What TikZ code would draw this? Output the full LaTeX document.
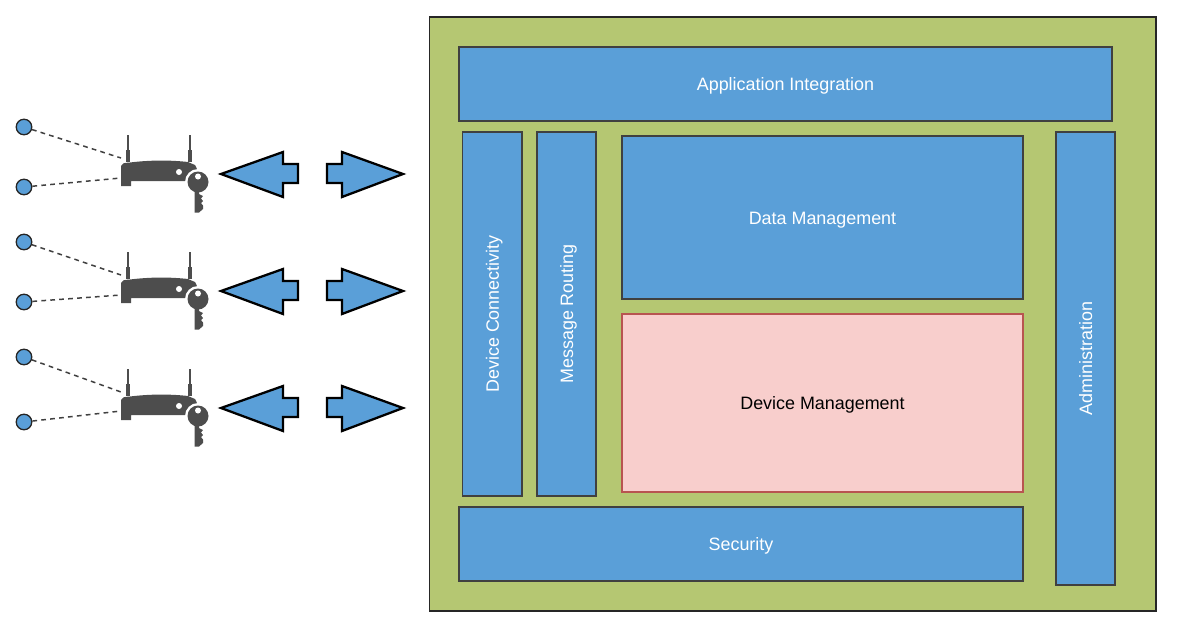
\documentclass[tikz,border=0pt]{standalone}
\usepackage{fontspec}
\setmainfont{Liberation Sans}
\definecolor{platgreen}{HTML}{B5C772}
\definecolor{blockblue}{HTML}{5A9FD8}
\definecolor{mgmtpink}{HTML}{F8CECC}
\definecolor{mgmtred}{HTML}{B85450}
\definecolor{icongray}{HTML}{4D4D4D}
\tikzset{
  platbox/.style={draw=black!85,fill=platgreen,line width=0.7pt},
  blockbox/.style={draw=black!75,fill=blockblue,line width=0.7pt},
  mgmtbox/.style={draw=mgmtred,fill=mgmtpink,line width=0.7pt},
  labeltext/.style={font=\fontsize{10.2}{12}\selectfont,text height=9.6pt,text depth=2pt},
  blocktext/.style={labeltext,text=white},
  blockarrow/.style={draw=black,fill=blockblue,line width=1.3pt,miter limit=10},
  devdot/.style={circle,draw=black!85,fill=blockblue,line width=0.75pt,minimum size=0.31cm,inner sep=0pt},
  devlink/.style={dash pattern=on 2.7pt off 2.4pt,line width=0.85pt,black!75}
}
\begin{document}
\begin{tikzpicture}[x=0.02cm,y=-0.02cm]
\useasboundingbox (0,0) rectangle (1179,629);
% platform
\draw[platbox] (429.5,17) rectangle (1156,611);
\draw[blockbox] (459,47) rectangle (1112,121) node[pos=0.5,blocktext] (appint) {Application Integration};
\draw[blockbox] (462.5,132) rectangle (522,496) node[pos=0.5,blocktext,rotate=90] (devconn) {Device Connectivity};
\draw[blockbox] (537,132) rectangle (596,496) node[pos=0.5,blocktext,rotate=90] (msgrout) {Message Routing};
\draw[blockbox] (622,136) rectangle (1023,299) node[pos=0.5,blocktext] (datamgmt) {Data Management};
\draw[mgmtbox] (622,314) rectangle (1023,492) node[pos=0.5,labeltext] (devmgmt) {Device Management};
\draw[blockbox] (459,507) rectangle (1023,581) node[pos=0.5,blocktext] (security) {Security};
\draw[blockbox] (1056,132) rectangle (1115,585) node[pos=0.5,blocktext,rotate=90] (admin) {Administration};
% gateways with their devices
\foreach \i/\dy/\ya/\yb/\ea/\eb in {1/0/127/187/158/178,2/117/242/302/275/295,3/234/357/422/392/411} {
  \node[devdot] (dota\i) at (24,\ya) {};
  \node[devdot] (dotb\i) at (24,\yb) {};
  \coordinate (gwa\i) at (121,\ea);
  \coordinate (gwb\i) at (121,\eb);
  \draw[devlink] (dota\i) -- (gwa\i);
  \draw[devlink] (dotb\i) -- (gwb\i);
  \begin{scope}[shift={(0,\dy)}]
  % antennas
  \fill[icongray] (127.3,135) rectangle (128.9,150);
  \fill[icongray] (189.3,135) rectangle (190.9,150);
  \fill[icongray] (126,150) rectangle (130.2,162);
  \fill[icongray] (188,150) rectangle (192.2,162);
  % body
  \fill[icongray] (121,166) .. controls (122,163) and (124,163) .. (130,162.5)
    .. controls (150,160) and (170,160) .. (188,162) -- (195,165)
    .. controls (198,168) and (198,178) .. (196,181) -- (131,181) -- (131,186) -- (121,186) -- cycle;
  \fill[white] (179,172) circle (3);
  % key
  \fill[white] (198,182) circle (13);
  \fill[white] (192,190) rectangle (206,214);
  \fill[icongray] (198,182) circle (10.5);
  \fill[icongray] (194.5,188) -- (199,188) -- (199,194) -- (203,196) -- (201,198.5) -- (203,201)
    -- (201,203) -- (203,205.5) -- (203,209) -- (199,212.5) -- (194.5,212.5) -- cycle;
  \fill[white] (198,176.5) circle (3);
  % block arrows
  \draw[blockarrow] (221,174) -- (283,152) -- (283,164) -- (298,164) -- (298,183) -- (283,183) -- (283,197) -- cycle;
  \draw[blockarrow] (403,174) -- (342,152) -- (342,164) -- (327,164) -- (327,183) -- (342,183) -- (342,197) -- cycle;
  \end{scope}
}
\end{tikzpicture}
\end{document}
